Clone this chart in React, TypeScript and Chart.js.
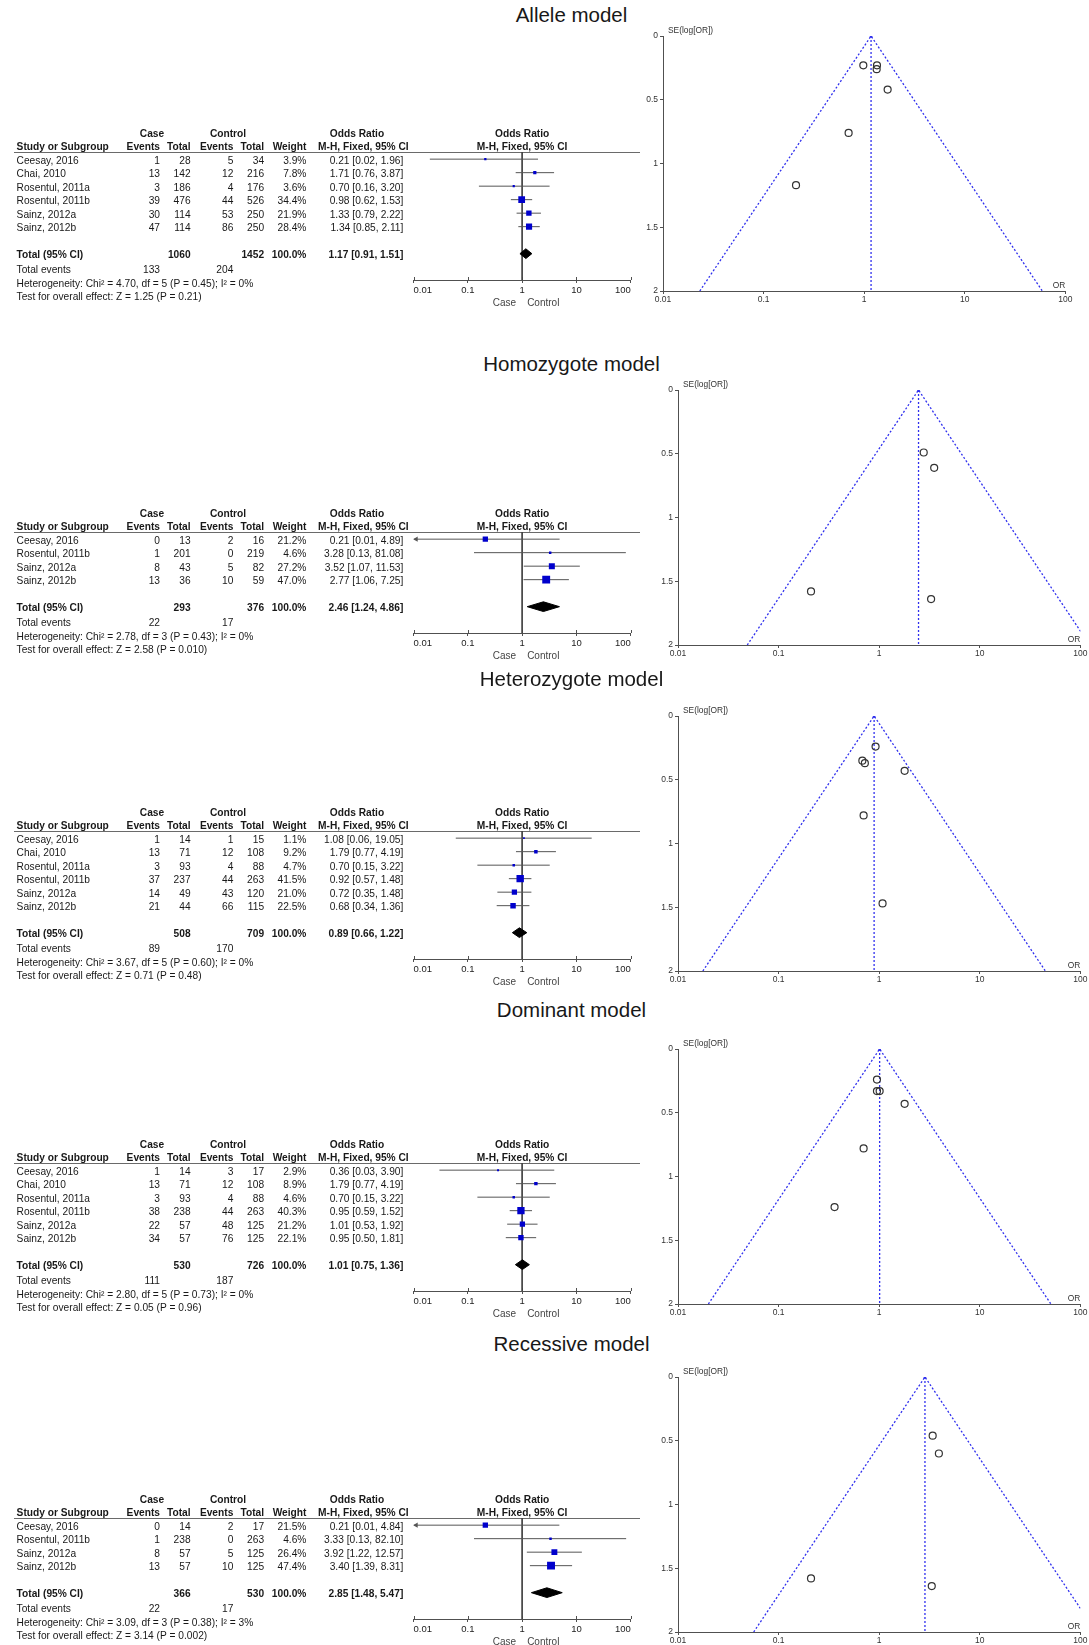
import React, { useEffect, useRef } from 'react';
import { Chart, registerables } from 'chart.js';

Chart.register(...registerables);

const FONT = '"Liberation Sans", Arial, Helvetica, sans-serif';
Chart.defaults.font.family = FONT;
Chart.defaults.color = '#222';

// ---------------- data ----------------
const PANEL_TITLES = ['Allele model', 'Homozygote model', 'Heterozygote model', 'Dominant model', 'Recessive model'];

const STUDIES = [
  ['Ceesay, 2016', 'Chai, 2010', 'Rosentul, 2011a', 'Rosentul, 2011b', 'Sainz, 2012a', 'Sainz, 2012b'],
  ['Ceesay, 2016', 'Rosentul, 2011b', 'Sainz, 2012a', 'Sainz, 2012b'],
  ['Ceesay, 2016', 'Chai, 2010', 'Rosentul, 2011a', 'Rosentul, 2011b', 'Sainz, 2012a', 'Sainz, 2012b'],
  ['Ceesay, 2016', 'Chai, 2010', 'Rosentul, 2011a', 'Rosentul, 2011b', 'Sainz, 2012a', 'Sainz, 2012b'],
  ['Ceesay, 2016', 'Rosentul, 2011b', 'Sainz, 2012a', 'Sainz, 2012b'],
];
const CASE_EVENTS = [[1, 13, 3, 39, 30, 47], [0, 1, 8, 13], [1, 13, 3, 37, 14, 21], [1, 13, 3, 38, 22, 34], [0, 1, 8, 13]];
const CASE_TOTAL = [[28, 142, 186, 476, 114, 114], [13, 201, 43, 36], [14, 71, 93, 237, 49, 44], [14, 71, 93, 238, 57, 57], [14, 238, 57, 57]];
const CTRL_EVENTS = [[5, 12, 4, 44, 53, 86], [2, 0, 5, 10], [1, 12, 4, 44, 43, 66], [3, 12, 4, 44, 48, 76], [2, 0, 5, 10]];
const CTRL_TOTAL = [[34, 216, 176, 526, 250, 250], [16, 219, 82, 59], [15, 108, 88, 263, 120, 115], [17, 108, 88, 263, 125, 125], [17, 263, 125, 125]];
const WEIGHTS = [[3.9, 7.8, 3.6, 34.4, 21.9, 28.4], [21.2, 4.6, 27.2, 47.0], [1.1, 9.2, 4.7, 41.5, 21.0, 22.5], [2.9, 8.9, 4.6, 40.3, 21.2, 22.1], [21.5, 4.6, 26.4, 47.4]];
const OR_EST = [[0.21, 1.71, 0.70, 0.98, 1.33, 1.34], [0.21, 3.28, 3.52, 2.77], [1.08, 1.79, 0.70, 0.92, 0.72, 0.68], [0.36, 1.79, 0.70, 0.95, 1.01, 0.95], [0.21, 3.33, 3.92, 3.40]];
const OR_LOW = [[0.02, 0.76, 0.16, 0.62, 0.79, 0.85], [0.01, 0.13, 1.07, 1.06], [0.06, 0.77, 0.15, 0.57, 0.35, 0.34], [0.03, 0.77, 0.15, 0.59, 0.53, 0.50], [0.01, 0.13, 1.22, 1.39]];
const OR_HIGH = [[1.96, 3.87, 3.20, 1.53, 2.22, 2.11], [4.89, 81.08, 11.53, 7.25], [19.05, 4.19, 3.22, 1.48, 1.48, 1.36], [3.90, 4.19, 3.22, 1.52, 1.92, 1.81], [4.84, 82.10, 12.57, 8.31]];
const TOTAL_CASE_N = [1060, 293, 508, 530, 366];
const TOTAL_CTRL_N = [1452, 376, 709, 726, 530];
const POOLED_OR = [1.17, 2.46, 0.89, 1.01, 2.85];
const POOLED_LOW = [0.91, 1.24, 0.66, 0.75, 1.48];
const POOLED_HIGH = [1.51, 4.86, 1.22, 1.36, 5.47];
const EVENTS_CASE = [133, 22, 89, 111, 22];
const EVENTS_CTRL = [204, 17, 170, 187, 17];
const HETEROGENEITY = [
  'Heterogeneity: Chi² = 4.70, df = 5 (P = 0.45); I² = 0%',
  'Heterogeneity: Chi² = 2.78, df = 3 (P = 0.43); I² = 0%',
  'Heterogeneity: Chi² = 3.67, df = 5 (P = 0.60); I² = 0%',
  'Heterogeneity: Chi² = 2.80, df = 5 (P = 0.73); I² = 0%',
  'Heterogeneity: Chi² = 3.09, df = 3 (P = 0.38); I² = 3%',
];
const OVERALL_EFFECT = [
  'Test for overall effect: Z = 1.25 (P = 0.21)',
  'Test for overall effect: Z = 2.58 (P = 0.010)',
  'Test for overall effect: Z = 0.71 (P = 0.48)',
  'Test for overall effect: Z = 0.05 (P = 0.96)',
  'Test for overall effect: Z = 3.14 (P = 0.002)',
];
// SE(log[OR]) of each study, as plotted in the funnel plots
const FUNNEL_SE = [[1.17, 0.42, 0.76, 0.23, 0.26, 0.23], [1.58, 1.64, 0.61, 0.49], [1.47, 0.43, 0.78, 0.24, 0.37, 0.35], [1.24, 0.43, 0.78, 0.24, 0.33, 0.33], [1.58, 1.64, 0.60, 0.46]];
const OR_TICKS = [0.01, 0.1, 1, 10, 100];
const SE_TICKS = [0, 0.5, 1, 1.5, 2];
const OR_MIN = 0.01;
const OR_MAX = 100;
const SE_MAX = 2;
const Z95 = 1.96;

// ---------------- layout ----------------
const ROW_H = 13.5;
const HEADER_LINE_Y = [151.7, 531.7, 830.7, 1163.3, 1517.8];
const TITLE_Y = [15, 364, 678.7, 1010, 1344];
const TITLE_CX = 571.5;
const FUNNEL_AXIS_X = [663.3, 678.3, 678.3, 678.3, 678.3];
const FUNNEL_TOP_Y = [36, 390, 716, 1048.7, 1376.7];
const FUNNEL_W = 402.4;
const FUNNEL_H = 254.6;
const F_TOP = 30;
const F_BOTTOM = 36;
const F_W = 660;
const F_LEFT = 413.5;
const F_RIGHT = 630.8;
const COL = { study: 16.6, caseEv: 160, caseTot: 190.6, ctrlEv: 233.3, ctrlTot: 264.1, weight: 306.4, or: 403.3, caseHdr: 152, ctrlHdr: 228, orHdr: 357, mhHdr: 363.4 };
const TEXT = '#181818';
const TEXT_SIZE = 10.2;
const SQUARE_BLUE = '#0000cc';
const FUNNEL_BLUE = '#3030ee';

const fmt2 = (v: number) => v.toFixed(2);
const ciText = (e: number, l: number, h: number) => `${fmt2(e)} [${fmt2(l)}, ${fmt2(h)}]`;

function drawText(ctx: CanvasRenderingContext2D, s: string, x: number, y: number, align: CanvasTextAlign, bold = false, size = TEXT_SIZE, color = TEXT) {
  ctx.font = `${bold ? 'bold ' : ''}${size}px ${FONT}`;
  ctx.fillStyle = color;
  ctx.textAlign = align;
  ctx.textBaseline = 'middle';
  ctx.fillText(s, x, y);
}

function ForestPlot({ p }: { p: number }) {
  const ref = useRef<HTMLCanvasElement | null>(null);
  const n = STUDIES[p].length;
  const yMin = -0.53;
  const yMax = n + 2.95;
  const chartH = ROW_H * (yMax - yMin);
  const H = Math.round(F_TOP + chartH + F_BOTTOM);
  const top = HEADER_LINE_Y[p] - F_TOP;

  useEffect(() => {
    const canvas = ref.current;
    if (!canvas) return;
    const ors = OR_EST[p], los = OR_LOW[p], his = OR_HIGH[p];
    const totalRow = n + 1;
    const D = 0.36;
    const datasets: any[] = [];
    datasets.push({
      type: 'scatter', data: ors.map((v, i) => ({ x: v, y: i })), pointStyle: 'rect',
      pointRadius: WEIGHTS[p].map((w) => Math.max(1.7, 1.15 * Math.sqrt(w)) / Math.SQRT2),
      backgroundColor: SQUARE_BLUE, borderColor: SQUARE_BLUE, borderWidth: 0, order: 0,
    });
    datasets.push({
      type: 'line', fill: 'shape', order: 1, pointRadius: 0, borderWidth: 1, borderColor: '#000', backgroundColor: '#000',
      data: [
        { x: POOLED_LOW[p], y: totalRow }, { x: POOLED_OR[p], y: totalRow - D },
        { x: POOLED_HIGH[p], y: totalRow }, { x: POOLED_OR[p], y: totalRow + D },
        { x: POOLED_LOW[p], y: totalRow },
      ],
    });
    const arrows = los.map((v, i) => (v <= OR_MIN ? { x: OR_MIN * 1.12, y: i } : null)).filter(Boolean);
    if (arrows.length) {
      datasets.push({ type: 'scatter', data: arrows, pointStyle: 'triangle', rotation: -90, pointRadius: 3, backgroundColor: '#555', borderWidth: 0, order: 1 });
    }
    ors.forEach((_, i) => {
      datasets.push({ type: 'line', data: [{ x: los[i], y: i }, { x: his[i], y: i }], borderColor: '#555', borderWidth: 1, pointRadius: 0, fill: false, order: 2 });
    });
    datasets.push({ type: 'line', data: [{ x: 1, y: yMin }, { x: 1, y: yMax }], borderColor: '#444', borderWidth: 1, pointRadius: 0, fill: false, order: 3 });

    const tablePlugin = {
      id: 'forestTable',
      beforeDatasetsDraw(chart: any) {
        const { ctx, chartArea: a } = chart;
        const xs = chart.scales.x;
        ctx.save();
        ctx.strokeStyle = '#6a6a6a';
        ctx.lineWidth = 1;
        const y = Math.round(a.top) + 0.5;
        ctx.beginPath();
        ctx.moveTo(14, y);
        ctx.lineTo(640, y);
        ctx.stroke();
        // upper half of the axis tick marks (RevMan ticks cross the axis)
        ctx.strokeStyle = '#505050';
        const by = Math.round(a.bottom);
        OR_TICKS.forEach((v) => {
          const x = Math.round(xs.getPixelForValue(v)) + 0.5;
          ctx.beginPath();
          ctx.moveTo(x, by - 3);
          ctx.lineTo(x, by);
          ctx.stroke();
        });
        ctx.restore();
      },
      afterDraw(chart: any) {
        const { ctx, chartArea: a } = chart;
        const ys = chart.scales.y, xs = chart.scales.x;
        const x1 = xs.getPixelForValue(1);
        const rowY = (r: number) => ys.getPixelForValue(r) + 2;
        ctx.save();
        const h1 = a.top - 17.8, h2 = a.top - 4.5;
        drawText(ctx, 'Case', COL.caseHdr, h1, 'center', true);
        drawText(ctx, 'Control', COL.ctrlHdr, h1, 'center', true);
        drawText(ctx, 'Odds Ratio', COL.orHdr, h1, 'center', true);
        drawText(ctx, 'Odds Ratio', x1, h1, 'center', true);
        drawText(ctx, 'Study or Subgroup', COL.study, h2, 'left', true);
        drawText(ctx, 'Events', COL.caseEv, h2, 'right', true);
        drawText(ctx, 'Total', COL.caseTot, h2, 'right', true);
        drawText(ctx, 'Events', COL.ctrlEv, h2, 'right', true);
        drawText(ctx, 'Total', COL.ctrlTot, h2, 'right', true);
        drawText(ctx, 'Weight', COL.weight, h2, 'right', true);
        drawText(ctx, 'M-H, Fixed, 95% CI', COL.mhHdr, h2, 'center', true);
        drawText(ctx, 'M-H, Fixed, 95% CI', x1, h2, 'center', true);
        STUDIES[p].forEach((s, i) => {
          const y = rowY(i);
          drawText(ctx, s, COL.study, y, 'left');
          drawText(ctx, String(CASE_EVENTS[p][i]), COL.caseEv, y, 'right');
          drawText(ctx, String(CASE_TOTAL[p][i]), COL.caseTot, y, 'right');
          drawText(ctx, String(CTRL_EVENTS[p][i]), COL.ctrlEv, y, 'right');
          drawText(ctx, String(CTRL_TOTAL[p][i]), COL.ctrlTot, y, 'right');
          drawText(ctx, WEIGHTS[p][i].toFixed(1) + '%', COL.weight, y, 'right');
          drawText(ctx, ciText(ors[i], los[i], his[i]), COL.or, y, 'right');
        });
        const ty = rowY(totalRow);
        drawText(ctx, 'Total (95% CI)', COL.study, ty, 'left', true);
        drawText(ctx, String(TOTAL_CASE_N[p]), COL.caseTot, ty, 'right', true);
        drawText(ctx, String(TOTAL_CTRL_N[p]), COL.ctrlTot, ty, 'right', true);
        drawText(ctx, '100.0%', COL.weight, ty, 'right', true);
        drawText(ctx, ciText(POOLED_OR[p], POOLED_LOW[p], POOLED_HIGH[p]), COL.or, ty, 'right', true);
        const ey = rowY(n + 2.1);
        drawText(ctx, 'Total events', COL.study, ey, 'left');
        drawText(ctx, String(EVENTS_CASE[p]), COL.caseEv, ey, 'right');
        drawText(ctx, String(EVENTS_CTRL[p]), COL.ctrlEv, ey, 'right');
        drawText(ctx, HETEROGENEITY[p], COL.study, rowY(n + 3.1), 'left');
        drawText(ctx, OVERALL_EFFECT[p], COL.study, rowY(n + 4.1), 'left');
        const cy = a.bottom + 23;
        drawText(ctx, 'Case', x1 - 6, cy, 'right', false, 10, '#444');
        drawText(ctx, 'Control', x1 + 5, cy, 'left', false, 10, '#444');
        ctx.restore();
      },
    };

    const chart = new Chart(canvas, {
      type: 'scatter',
      data: { datasets },
      options: {
        responsive: false,
        animation: false,
        events: [],
        layout: { padding: { left: F_LEFT, right: F_W - F_RIGHT, top: F_TOP, bottom: F_BOTTOM - 14 } },
        plugins: { legend: { display: false }, tooltip: { enabled: false } },
        scales: {
          x: {
            type: 'logarithmic', min: OR_MIN, max: OR_MAX,
            afterBuildTicks: (s: any) => { s.ticks = OR_TICKS.map((v) => ({ value: v })); },
            afterFit: (s: any) => { s.height = 14; },
            ticks: { callback: (v: any) => String(v), align: 'inner', autoSkip: false, maxRotation: 0, padding: 2, color: '#222', font: { size: 9.5, family: FONT } },
            grid: { drawOnChartArea: false, drawTicks: true, tickLength: 3, color: '#505050' },
            border: { display: true, color: '#505050', width: 1 },
          },
          y: { type: 'linear', reverse: true, min: yMin, max: yMax, display: false },
        },
      } as any,
      plugins: [tablePlugin],
    } as any);
    return () => chart.destroy();
  }, [p]);

  return <canvas ref={ref} width={F_W} height={H} style={{ position: 'absolute', left: 0, top, width: F_W, height: H }} />;
}

function FunnelPlot({ p }: { p: number }) {
  const ref = useRef<HTMLCanvasElement | null>(null);
  const PAD_L = 50, PAD_T = 20, PAD_R = 20, PAD_B = 24;
  const W = Math.round(PAD_L + FUNNEL_W + PAD_R);
  const H = Math.round(PAD_T + FUNNEL_H + PAD_B);
  const left = FUNNEL_AXIS_X[p] - PAD_L;
  const top = FUNNEL_TOP_Y[p] - PAD_T;

  useEffect(() => {
    const canvas = ref.current;
    if (!canvas) return;
    const pooled = POOLED_OR[p];
    const lo2 = pooled * Math.exp(-Z95 * SE_MAX);
    const hi2 = pooled * Math.exp(Z95 * SE_MAX);
    const labelPlugin = {
      id: 'funnelLabels',
      afterDraw(chart: any) {
        const { ctx, chartArea: a } = chart;
        ctx.save();
        drawText(ctx, 'SE(log[OR])', a.left + 5, a.top - 5.5, 'left', false, 8.4, '#333');
        drawText(ctx, 'OR', a.right, a.bottom - 5.7, 'right', false, 8.4, '#333');
        ctx.restore();
      },
    };
    const chart = new Chart(canvas, {
      type: 'scatter',
      data: {
        datasets: [
          {
            type: 'scatter', data: OR_EST[p].map((v, i) => ({ x: v, y: FUNNEL_SE[p][i] })),
            pointStyle: 'circle', pointRadius: 3.5, borderColor: '#333', backgroundColor: 'rgba(0,0,0,0)', borderWidth: 1.2, order: 0,
          },
          {
            type: 'line', data: [{ x: lo2, y: SE_MAX }, { x: pooled, y: 0 }, { x: hi2, y: SE_MAX }],
            borderColor: FUNNEL_BLUE, borderDash: [2, 2], borderWidth: 1.3, pointRadius: 0, fill: false, order: 1,
          },
          {
            type: 'line', data: [{ x: pooled, y: 0 }, { x: pooled, y: SE_MAX }],
            borderColor: FUNNEL_BLUE, borderDash: [2, 2], borderWidth: 1.3, pointRadius: 0, fill: false, order: 1,
          },
          {
            type: 'scatter', data: [{ x: pooled, y: 0 }], pointRadius: 1.4, backgroundColor: FUNNEL_BLUE, borderWidth: 0, order: 0,
          },
        ],
      },
      options: {
        responsive: false,
        animation: false,
        events: [],
        layout: { padding: { left: 0, right: W - PAD_L - FUNNEL_W, top: PAD_T, bottom: 0 } },
        plugins: { legend: { display: false }, tooltip: { enabled: false } },
        scales: {
          x: {
            type: 'logarithmic', min: OR_MIN, max: OR_MAX,
            afterBuildTicks: (s: any) => { s.ticks = OR_TICKS.map((v) => ({ value: v })); },
            afterFit: (s: any) => { s.height = PAD_B; },
            ticks: { callback: (v: any) => String(v), autoSkip: false, maxRotation: 0, padding: 1, color: '#333', font: { size: 8.5, family: FONT } },
            grid: { drawOnChartArea: false, drawTicks: true, tickLength: 3, color: '#505050' },
            border: { display: true, color: '#505050', width: 1 },
          },
          y: {
            type: 'linear', reverse: true, min: 0, max: SE_MAX,
            afterBuildTicks: (s: any) => { s.ticks = SE_TICKS.map((v) => ({ value: v })); },
            afterFit: (s: any) => { s.width = PAD_L; },
            ticks: { callback: (v: any) => String(v), autoSkip: false, padding: 2, color: '#333', font: { size: 8.5, family: FONT } },
            grid: { drawOnChartArea: false, drawTicks: true, tickLength: 3, color: '#505050' },
            border: { display: true, color: '#505050', width: 1 },
          },
        },
      } as any,
      plugins: [labelPlugin],
    } as any);
    return () => chart.destroy();
  }, [p]);

  return <canvas ref={ref} width={W} height={H} style={{ position: 'absolute', left, top, width: W, height: H }} />;
}

export default function App() {
  return (
    <div style={{ position: 'absolute', left: 0, top: 0, width: 1089, height: 1645, background: '#fff', overflow: 'hidden', fontFamily: FONT }}>
      {PANEL_TITLES.map((t, p) => (
        <React.Fragment key={p}>
          <div style={{ position: 'absolute', left: TITLE_CX - 200, width: 400, top: TITLE_Y[p] - 12, height: 24, lineHeight: '24px', textAlign: 'center', fontSize: 20.5, color: TEXT }}>{t}</div>
          <ForestPlot p={p} />
          <FunnelPlot p={p} />
        </React.Fragment>
      ))}
    </div>
  );
}
